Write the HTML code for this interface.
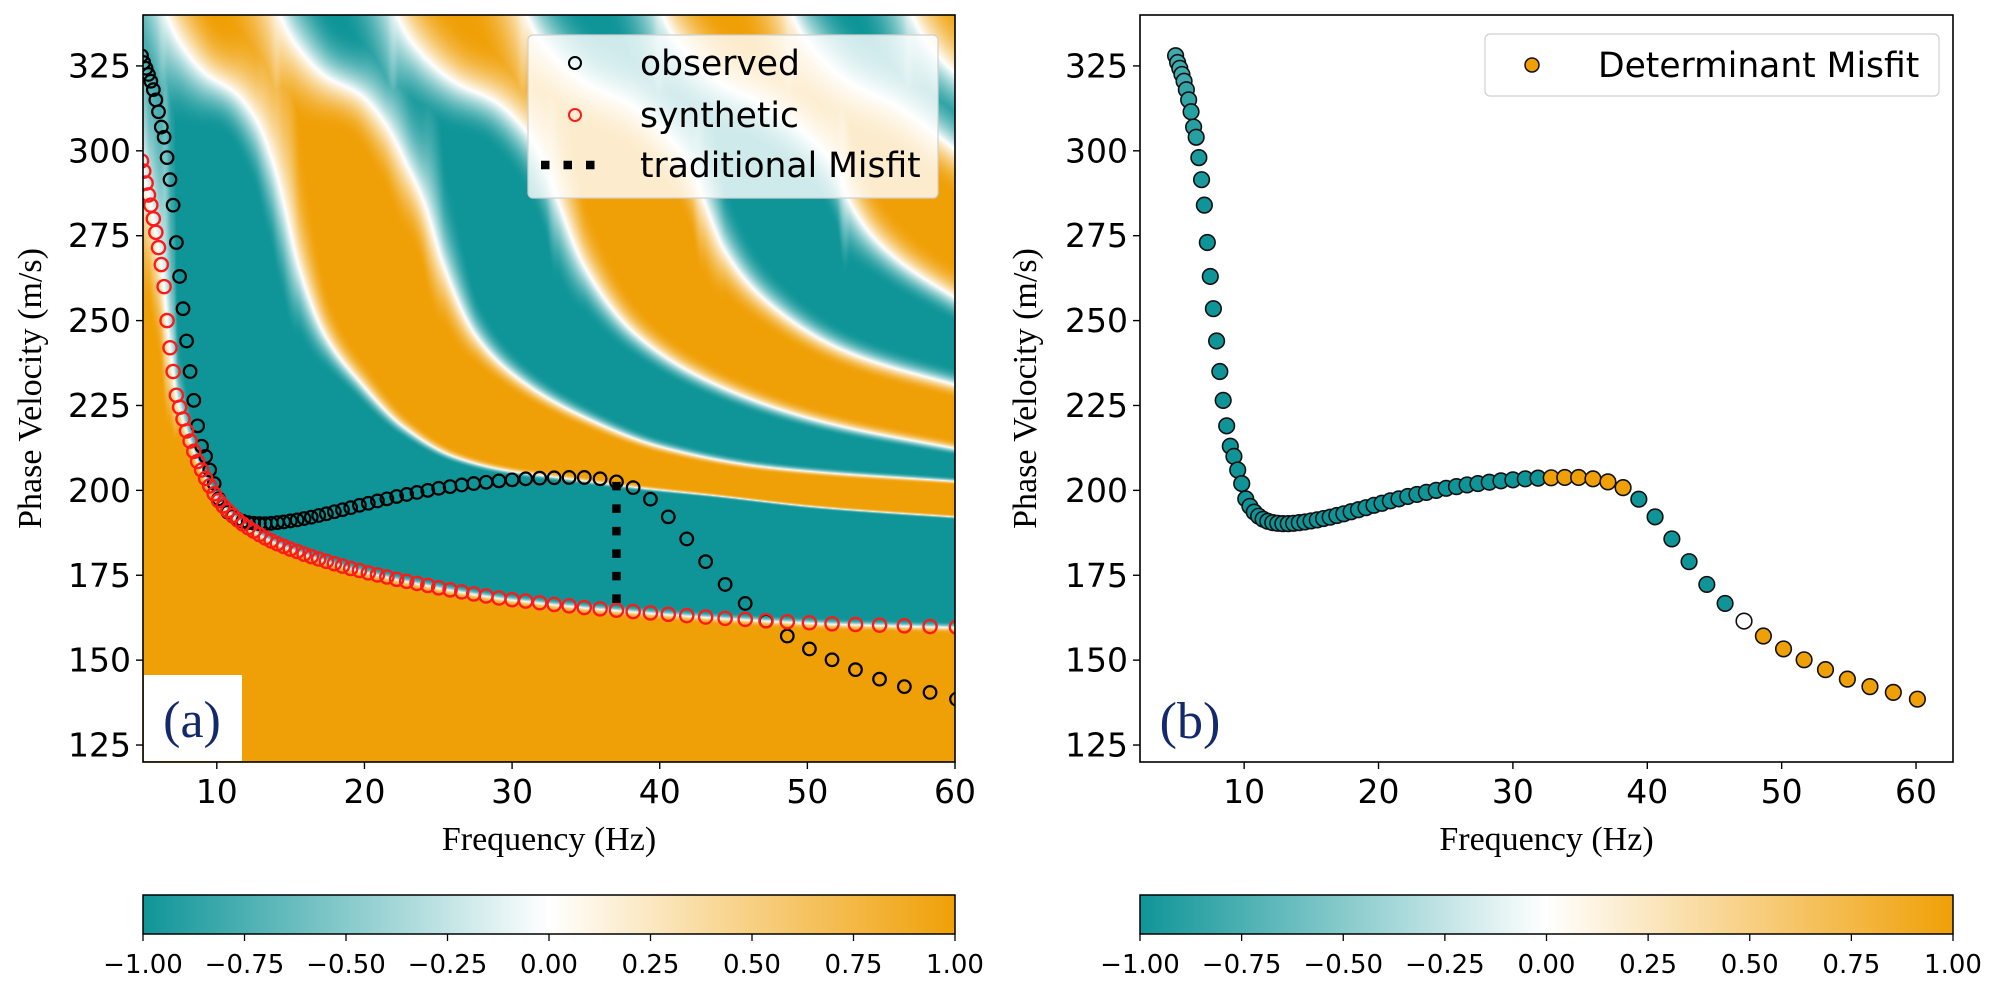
<!DOCTYPE html>
<html><head><meta charset="utf-8">
<style>
html,body{margin:0;padding:0;background:#fff;}
#wrap{position:relative;width:1997px;height:991px;overflow:hidden;background:#fff;}
#heat{position:absolute;left:143px;top:15px;}
#chart{position:absolute;left:0;top:0;}
text{font-family:"DejaVu Sans","Liberation Sans",sans-serif;}
.serif{font-family:"Liberation Serif","DejaVu Serif",serif;}
</style></head>
<body>
<div id="wrap">
<canvas id="heat" width="812" height="747"></canvas>
<svg id="chart" width="1997" height="991" xmlns="http://www.w3.org/2000/svg">
<defs>
<linearGradient id="cmap" x1="0" y1="0" x2="1" y2="0">
<stop offset="0" stop-color="rgb(15,149,152)"/>
<stop offset="0.5" stop-color="#ffffff"/>
<stop offset="1" stop-color="rgb(240,160,7)"/>
</linearGradient>
<clipPath id="clipL"><rect x="143" y="15" width="812" height="747"/></clipPath>
</defs>
<g id="gL"></g>
<g id="gR"></g>
</svg>
</div>
<script>
// ---- data ----
const freqs = [4.90,5.05,5.21,5.37,5.53,5.70,5.87,6.05,6.24,6.43,6.63,6.83,7.04,7.26,7.48,7.71,7.95,8.19,8.44,8.70,8.97,9.24,9.52,9.82,10.12,10.43,10.75,11.08,11.41,11.76,12.13,12.50,12.88,13.28,13.68,14.10,14.53,14.98,15.44,15.91,16.40,16.90,17.42,17.96,18.51,19.07,19.66,20.26,20.88,21.52,22.18,22.86,23.56,24.29,25.03,25.80,26.59,27.40,28.24,29.11,30.00,30.92,31.87,32.85,33.86,34.89,35.96,37.07,38.20,39.37,40.58,41.83,43.11,44.43,45.79,47.20,48.64,50.14,51.67,53.26,54.89,56.57,58.31,60.10];
const observedVel = [328,326,324.3,322.5,320.5,318,315,311.5,307,304,298,291.5,284,273,263,253.5,244,235,226.5,219,213,210,206,202,197.5,195.3,193.6,192.4,191.5,190.9,190.5,190.3,190.2,190.2,190.3,190.5,190.7,191.0,191.3,191.7,192.1,192.6,193.1,193.7,194.3,194.9,195.6,196.2,196.9,197.5,198.2,198.8,199.4,200.0,200.6,201.1,201.6,202.0,202.4,202.8,203.1,203.4,203.6,203.7,203.8,203.8,203.4,202.5,200.8,197.4,192.2,185.7,179,172.3,166.7,161.5,157.1,153.3,150.1,147.2,144.4,142.2,140.5,138.5];
const syntheticVel = [297,294,290.5,287,284,280,276,271.5,266.5,260,250,242,235,228,224.5,221,217.5,214.5,211.5,208.5,206,203.5,201.3,199,197,195.4,194,192.6,191.3,190.1,189,188,187,186,185.1,184.3,183.5,182.7,182,181.2,180.5,179.8,179.1,178.4,177.7,177,176.4,175.7,175.1,174.5,173.8,173.2,172.6,172,171.3,170.7,170.1,169.5,168.9,168.3,167.8,167.4,166.9,166.4,166,165.5,165.1,164.7,164.3,163.9,163.5,163.1,162.7,162.3,162,161.6,161.3,161,160.7,160.5,160.3,160.1,159.9,159.7];
const detMisfit = [-0.8,-0.8,-0.8,-0.8,-0.8,-0.85,-0.85,-0.9,-0.9,-0.9,-0.95,-0.95,-1,-1,-1,-1,-1,-1,-1,-1,-1,-1,-1,-1,-1,-1,-1,-1,-1,-1,-1,-1,-1,-1,-1,-1,-1,-1,-1,-1,-1,-1,-1,-1,-1,-1,-1,-1,-1,-1,-1,-1,-1,-1,-1,-1,-1,-1,-1,-1,-1,-1,-1,1,1,1,1,1,1,-1,-1,-1,-1,-1,-1,0,1,1,1,1,1,1,1,1];
const misfitIndex = 67;
const yTicks = [125,150,175,200,225,250,275,300,325];
const xTicks = [10,20,30,40,50,60];
const cbTicks = [-1,-0.75,-0.5,-0.25,0,0.25,0.5,0.75,1];
const cbLabels = ["\u22121.00","\u22120.75","\u22120.50","\u22120.25","0.00","0.25","0.50","0.75","1.00"];
// zero-crossing lines of the determinant field (f Hz, v m/s)
const mode1 = [[6.0,350],[6.6,340],[7.8,330],[9.2,323],[11.3,317],[12.7,309],[13.8,297],[14.5,285.5],[15.55,266],[17.3,246],[19.8,231.5],[22.6,219],[26.1,210],[29.6,206],[33,204],[38.4,201],[43.7,198.6],[50.7,195.2],[61,192]];
const mode2 = [[13.7,350],[14.3,340],[15.6,330],[17.3,322.3],[19.8,316.4],[21.5,307.6],[22.9,295.8],[24,285.5],[25.4,266],[27.5,246],[30.3,233.5],[34.9,221.7],[40.2,212.8],[47.2,207],[61,202.5]];
const mode3 = [[21.6,350],[22.2,340],[23.6,330],[26.1,320.4],[28.9,314.5],[31,305.6],[32.4,294.8],[33.1,285.5],[34.9,266],[38.4,246],[43.7,231.5],[50.7,220.7],[61,211.6]];
const mode4 = [[30.4,350],[31,340],[32.4,330],[34.9,320.4],[38.1,313.5],[40.5,304.7],[42.3,293.9],[43,285.5],[44.4,270.8],[47.2,256],[52.5,241.3],[61,230]];
const mode5 = [[39.6,350],[40.2,340],[41.6,330],[44,320.4],[47.2,313.5],[50,304.7],[52.1,293.9],[52.8,285.5],[54.9,272.7],[61,254]];
const mode6 = [[48.4,350],[49,340],[50.4,330],[52.8,320.4],[56,313.5],[58.8,304.7],[61,297]];
const mode7 = [[56.5,350],[57.1,340],[58.5,330],[61,319]];

// ---- geometry ----
const L = {x0:143, x1:955, y0:15, y1:762, fmin:5, fmax:60};
const R = {x0:1140, x1:1953, y0:15, y1:762, fmin:2.25, fmax:62.75};
const VMIN=120, VMAX=340;
function sx(ax,f){return ax.x0+(f-ax.fmin)/(ax.fmax-ax.fmin)*(ax.x1-ax.x0);}
function sy(ax,v){return ax.y0+(VMAX-v)/(VMAX-VMIN)*(ax.y1-ax.y0);}
const TEAL=[15,149,152], ORANGE=[240,160,7];
function cmap(val){
  const c = val<0?TEAL:ORANGE, a=Math.min(1,Math.abs(val));
  return [255+(c[0]-255)*a,255+(c[1]-255)*a,255+(c[2]-255)*a];
}
function rgb(c){return 'rgb('+c.map(Math.round).join(',')+')';}

// monotone cubic (PCHIP) interpolator with linear extrapolation
function pchip(pts){
  const n=pts.length, x=pts.map(p=>p[0]), y=pts.map(p=>p[1]);
  const h=[],dl=[];
  for(let i=0;i<n-1;i++){h.push(x[i+1]-x[i]);dl.push((y[i+1]-y[i])/h[i]);}
  const m=new Array(n);
  m[0]=dl[0]; m[n-1]=dl[n-2];
  for(let i=1;i<n-1;i++){
    if(dl[i-1]*dl[i]<=0) m[i]=0;
    else{const w1=2*h[i]+h[i-1],w2=h[i]+2*h[i-1];m[i]=(w1+w2)/(w1/dl[i-1]+w2/dl[i]);}
  }
  return function(f){
    if(f<=x[0]) return y[0]+(f-x[0])*m[0];
    if(f>=x[n-1]) return y[n-1]+(f-x[n-1])*m[n-1];
    let i=0; while(f>x[i+1]) i++;
    const t=(f-x[i])/h[i],t2=t*t,t3=t2*t;
    return (2*t3-3*t2+1)*y[i]+(t3-2*t2+t)*h[i]*m[i]+(-2*t3+3*t2)*y[i+1]+(t3-t2)*h[i]*m[i+1];
  };
}

// ---- heatmap ----
(function(){
  const cv=document.getElementById('heat'), ctx=cv.getContext('2d');
  const W=812,H=747, img=ctx.createImageData(W,H), d=img.data;
  const synthLine = freqs.map((f,i)=>[f,syntheticVel[i]]);
  const fns=[synthLine,mode1,mode2,mode3,mode4,mode5,mode6,mode7].map(pchip);
  function ypix(v){return (VMAX-v)/(VMAX-VMIN)*H;}
  function fcol(cx){return 5+(cx+0.5)/W*55;}
  const nl=fns.length;
  for(let cx=0;cx<W;cx++){
    const ys=[],ss=[];
    for(let k=0;k<nl;k++){
      const y=ypix(fns[k](fcol(cx)));
      const ya=ypix(fns[k](fcol(cx-2))), yb=ypix(fns[k](fcol(cx+2)));
      const s=(yb-ya)/4;
      ys.push(y); ss.push(Math.sqrt(1+s*s));
    }
    for(let cy=0;cy<H;cy++){
      const v=VMAX-(cy+0.5)/H*(VMAX-VMIN);
      let count=0, dmin=1e9, kmin=0;
      for(let k=0;k<nl;k++){
        const dy=ys[k]-cy;
        if(dy>0) count++;
        const dd=Math.abs(dy)/ss[k];
        if(dd<dmin){dmin=dd;kmin=k;}
      }
      const sign=(count%2===0)?1:-1;
      let w=2+0.38*(v-197); w=Math.max(kmin===0?6:2.5,w);
      const t=Math.min(1,dmin/w);
      const val=sign*(1-(1-t)*(1-t));
      const c=cmap(val), p=(cy*W+cx)*4;
      d[p]=c[0];d[p+1]=c[1];d[p+2]=c[2];d[p+3]=255;
    }
  }
  ctx.putImageData(img,0,0);
})();

// ---- svg drawing ----
const NS='http://www.w3.org/2000/svg';
function mk(tag,attrs,parent){const e=document.createElementNS(NS,tag);for(const k in attrs)e.setAttribute(k,attrs[k]);parent.appendChild(e);return e;}
const gL=document.getElementById('gL'), gR=document.getElementById('gR');

function axes(ax,g,tag){
  yTicks.forEach(v=>{
    const y=sy(ax,v);
    const t=mk('line',{x1:ax.x0-7,x2:ax.x0,y1:y,y2:y,stroke:'#000','stroke-width':1.4},g);
    
    
    const lb=mk('text',{x:ax.x0-12,y:y+11.5,'text-anchor':'end','font-size':33,fill:'#000'},g);
    lb.textContent=v;
    
    
  });
  xTicks.forEach(f=>{
    const x=sx(ax,f);
    const t=mk('line',{x1:x,x2:x,y1:ax.y1,y2:ax.y1+7,stroke:'#000','stroke-width':1.4},g);
    
    
    const lb=mk('text',{x:x,y:ax.y1+41,'text-anchor':'middle','font-size':33,fill:'#000'},g);
    lb.textContent=f;
    
    
  });
  const xl=mk('text',{x:(ax.x0+ax.x1)/2,y:850,'text-anchor':'middle','font-size':34,fill:'#000','class':'serif'},g);
  xl.textContent='Frequency (Hz)';
  
  
  const cxl = tag==='a'?30:1025, cyl=(ax.y0+ax.y1)/2;
  const yl=mk('text',{x:cxl+11,y:cyl,'text-anchor':'middle','font-size':34,fill:'#000','class':'serif',transform:'rotate(-90 '+(cxl+11)+' '+cyl+')'},g);
  yl.textContent='Phase Velocity (m/s)';
  
  
  const cb=mk('rect',{x:ax.x0,y:895,width:ax.x1-ax.x0,height:39,fill:'url(#cmap)',stroke:'#000','stroke-width':1.5},g);
  
  
  cbTicks.forEach((c,i)=>{
    const x=ax.x0+(c+1)/2*(ax.x1-ax.x0);
    const t=mk('line',{x1:x,x2:x,y1:934,y2:941,stroke:'#000','stroke-width':1.3},g);
    
    
    const lb=mk('text',{x:x,y:973,'text-anchor':'middle','font-size':26,fill:'#000'},g);
    lb.textContent=cbLabels[i];
    
    
  });
}

const obsG=mk('g',{'clip-path':'url(#clipL)'},gL);


const synG=mk('g',{'clip-path':'url(#clipL)'},gL);


freqs.forEach((f,i)=>{
  const c=mk('circle',{cx:sx(L,f),cy:sy(L,syntheticVel[i]),r:6.6,fill:'none',stroke:'#ff1a1a','stroke-width':2.4},synG);
  
  
});
freqs.forEach((f,i)=>{
  const c=mk('circle',{cx:sx(L,f),cy:sy(L,observedVel[i]),r:6.3,fill:'none',stroke:'#000','stroke-width':2.2},obsG);
  
  
});
const mx=sx(L,freqs[misfitIndex]);
const ml=mk('line',{x1:mx,x2:mx,y1:sy(L,observedVel[misfitIndex]),y2:sy(L,syntheticVel[misfitIndex]),stroke:'#000','stroke-width':8.5,'stroke-dasharray':'8.5 14'},gL);


const frameL=mk('rect',{x:L.x0,y:L.y0,width:L.x1-L.x0,height:L.y1-L.y0,fill:'none',stroke:'#000','stroke-width':1.6},gL);


const boxA=mk('rect',{x:144,y:675,width:98,height:86,fill:'#fff'},gL);


const la=mk('text',{x:192,y:737,'text-anchor':'middle','font-size':52,fill:'#14296b','class':'serif'},gL);
la.textContent='(a)';


const legA=mk('g',{},gL);


mk('rect',{x:528,y:35,width:410,height:163,rx:5,fill:'#fff','fill-opacity':0.8,stroke:'#d0d0d0','stroke-width':1.2},legA);
const le1=mk('circle',{cx:575,cy:63,r:6,fill:'none',stroke:'#000','stroke-width':2},legA);


const lt1=mk('text',{x:640,y:75,'font-size':34.5,fill:'#000'},legA);
lt1.textContent='observed';


const le2=mk('circle',{cx:575,cy:115,r:6,fill:'none',stroke:'#ff1a1a','stroke-width':2},legA);


const lt2=mk('text',{x:640,y:127,'font-size':34.5,fill:'#000'},legA);
lt2.textContent='synthetic';


const le3=mk('line',{x1:541,x2:605,y1:165,y2:165,stroke:'#000','stroke-width':8.5,'stroke-dasharray':'8.5 14'},legA);


const lt3=mk('text',{x:640,y:177,'font-size':34.5,fill:'#000'},legA);
lt3.textContent='traditional Misfit';


axes(L,gL,'a');

const frameR=mk('rect',{x:R.x0,y:R.y0,width:R.x1-R.x0,height:R.y1-R.y0,fill:'#fff',stroke:'#000','stroke-width':1.6},gR);


const detG=mk('g',{},gR);


freqs.forEach((f,i)=>{
  const c=mk('circle',{cx:sx(R,f),cy:sy(R,observedVel[i]),r:7.8,fill:rgb(cmap(detMisfit[i])),stroke:'#111','stroke-width':1.6},detG);
  
  
});
const lb=mk('text',{x:1190,y:738,'text-anchor':'middle','font-size':52,fill:'#14296b','class':'serif'},gR);
lb.textContent='(b)';


const legB=mk('g',{},gR);


mk('rect',{x:1485,y:34,width:454,height:62,rx:5,fill:'#fff',stroke:'#d0d0d0','stroke-width':1.2},legB);
const lbm=mk('circle',{cx:1532,cy:65,r:7,fill:rgb(ORANGE),stroke:'#111','stroke-width':1.5},legB);


const lbt=mk('text',{x:1598,y:77,'font-size':34.5,fill:'#000'},legB);
lbt.textContent='Determinant Misfit';


axes(R,gR,'b');
</script>
</body></html>
